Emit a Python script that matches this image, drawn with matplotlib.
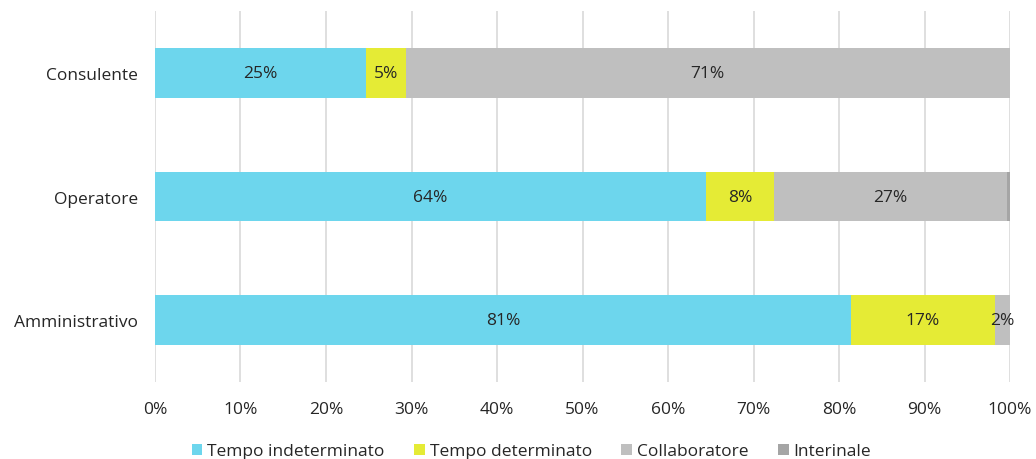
import numpy as np
import matplotlib.pyplot as plt

plt.rcParams['font.family'] = ['Open Sans', 'DejaVu Sans']

categories = ['Consulente', 'Operatore', 'Amministrativo']
series = ['Tempo indeterminato', 'Tempo determinato', 'Collaboratore', 'Interinale']
indeterminato = [24.7, 64.4, 81.4]
determinato = [4.6, 8.0, 16.8]
collaboratore = [70.7, 27.2, 1.8]
interinale = [0.0, 0.4, 0.0]

colors = ['#6DD6ED', '#E5EB35', '#BFBFBF', '#A5A5A5']
text_col = '#262626'

fig = plt.figure(figsize=(10.36, 4.6), dpi=100)
ax = fig.add_axes([0.1496, 0.1674, 0.8254, 0.8065])

y = np.arange(len(categories))
left = np.zeros(len(categories))
for name, vals, col in zip(series, [indeterminato, determinato, collaboratore, interinale], colors):
    vals = np.array(vals)
    ax.barh(y, vals, left=left, height=0.4, color=col, label=name, zorder=2)
    # percentage labels in the middle of each segment (skip the tiny ones)
    for yi, l, v in zip(y, left, vals):
        if v >= 1:
            ax.text(l + v / 2, yi, f'{v:.0f}%', ha='center', va='center',
                    fontsize=12.5, color=text_col, zorder=3)
    left += vals

ax.set_xlim(0, 100)
ax.set_ylim(len(categories) - 0.5, -0.5)
ax.set_yticks(y)
ax.set_yticklabels(categories)
ax.set_xticks(np.arange(0, 101, 10))
ax.set_xticklabels([f'{t}%' for t in range(0, 101, 10)])
ax.tick_params(axis='both', length=0, labelsize=12.5, colors=text_col)
ax.tick_params(axis='y', pad=12)
ax.tick_params(axis='x', pad=14)
ax.xaxis.grid(True, color='#D9D9D9', linewidth=1.2, zorder=0)
ax.set_axisbelow(True)
for s in ax.spines.values():
    s.set_visible(False)

fig.legend(loc='lower center', bbox_to_anchor=(0.513, -0.035), ncol=4, frameon=False,
           fontsize=12.5, handlelength=0.6, handleheight=0.6, handletextpad=0.3,
           columnspacing=1.7, labelcolor=text_col)

fig.savefig('out.png', dpi=100)
